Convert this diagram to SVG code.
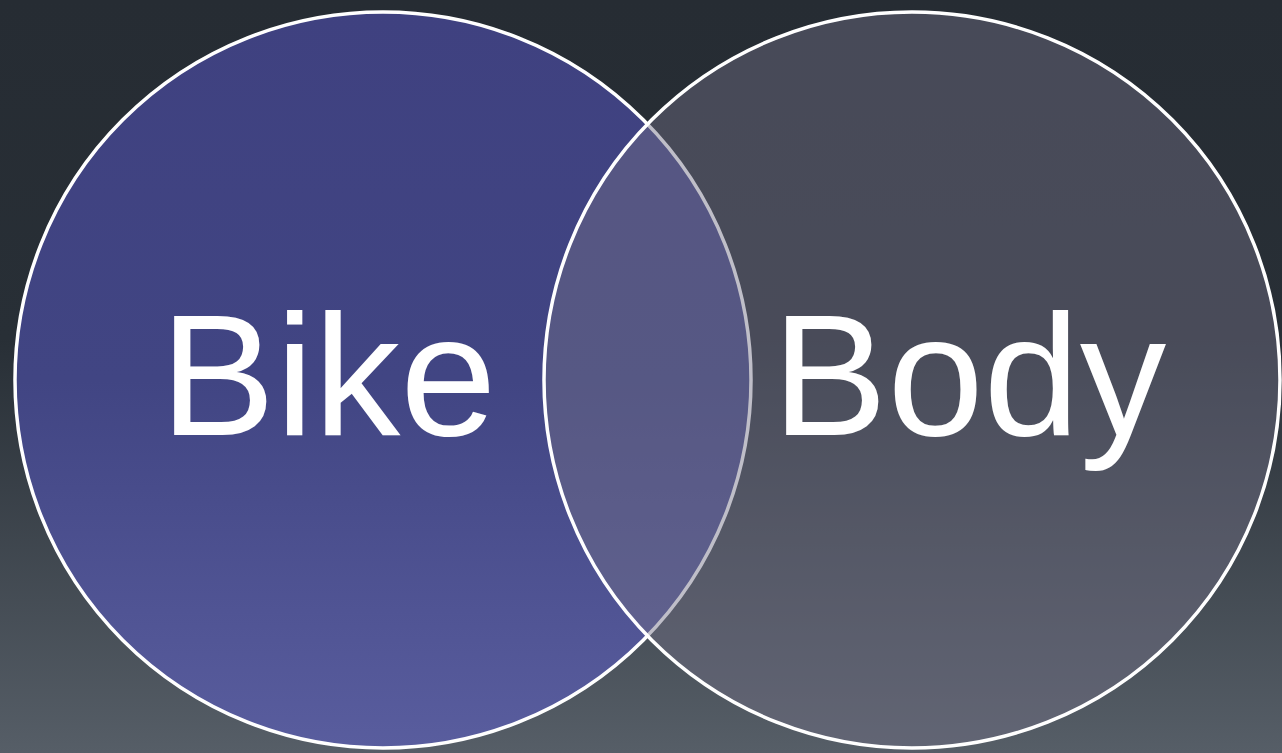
<svg xmlns="http://www.w3.org/2000/svg" width="1282" height="753" viewBox="0 0 1282 753">
  <defs>
    <linearGradient id="bg" x1="0" y1="0" x2="0" y2="1">
      <stop offset="0" stop-color="#262c33"/>
      <stop offset="0.45" stop-color="#282f36"/>
      <stop offset="1" stop-color="#565e67"/>
    </linearGradient>
    <linearGradient id="gl" x1="0" y1="0" x2="0" y2="1">
      <stop offset="0" stop-color="#3f4180"/>
      <stop offset="0.5" stop-color="#414583"/>
      <stop offset="1" stop-color="#595d9e"/>
    </linearGradient>
    <style>
      .circle { stroke: #ffffff; stroke-width: 3.5; }
      .label { font-family: "Liberation Sans", Arial, sans-serif; font-size: 173px; fill: #ffffff; }
    </style>
  </defs>
  <rect x="0" y="0" width="1282" height="753" fill="url(#bg)"/>
  <g id="bike">
    <circle class="circle" cx="383" cy="380" r="368" fill="url(#gl)"/>
    <text class="label" x="160" y="435">Bike</text>
  </g>
  <g id="body">
    <circle class="circle" cx="912" cy="380" r="368" fill="#726e86" fill-opacity="0.45"/>
    <text class="label" x="772" y="435">Body</text>
  </g>
  <g id="connectors"/>
</svg>
